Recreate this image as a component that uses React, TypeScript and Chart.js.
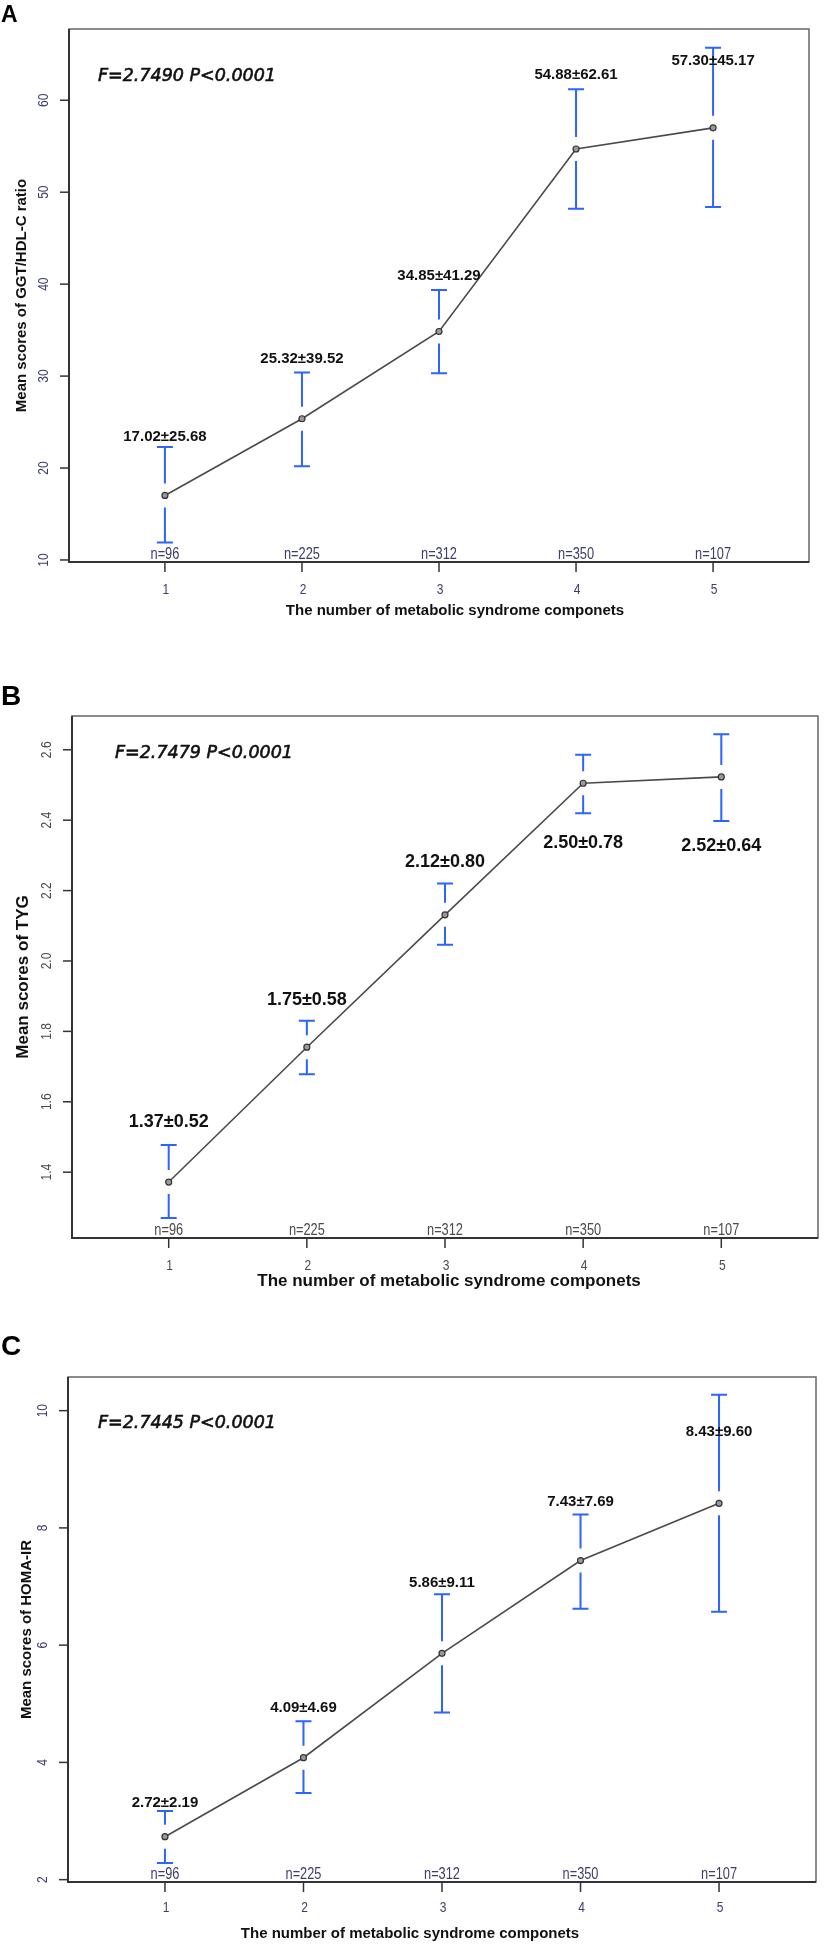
import { useEffect, useRef } from 'react';
import Chart from 'chart.js/auto';

// shared categories
const groups = [1, 2, 3, 4, 5];
const groupTickLabels = ['1', '2', '3', '4', '5'];
const groupSizes = ['n=96', 'n=225', 'n=312', 'n=350', 'n=107'];

// A: GGT/HDL-C ratio
const ggtMeans = [17.02, 25.36, 34.85, 54.7, 57.0];
const ggtUpper = [22.3, 30.4, 39.35, 61.2, 65.7];
const ggtLower = [11.9, 20.2, 30.3, 48.2, 48.4];
const ggtText = ['17.02±25.68', '25.32±39.52', '34.85±41.29', '54.88±62.61', '57.30±45.17'];
const ggtTicks = [10, 20, 30, 40, 50, 60];
const ggtTickLabels = ['10', '20', '30', '40', '50', '60'];

// B: TYG
const tygMeans = [1.372, 1.755, 2.131, 2.505, 2.523];
const tygUpper = [1.477, 1.83, 2.22, 2.586, 2.644];
const tygLower = [1.27, 1.678, 2.046, 2.42, 2.398];
const tygText = ['1.37±0.52', '1.75±0.58', '2.12±0.80', '2.50±0.78', '2.52±0.64'];
const tygTicks = [1.4, 1.6, 1.8, 2.0, 2.2, 2.4, 2.6];
const tygTickLabels = ['1.4', '1.6', '1.8', '2.0', '2.2', '2.4', '2.6'];

// C: HOMA-IR
const homaMeans = [2.733, 4.08, 5.86, 7.443, 8.42];
const homaUpper = [3.17, 4.7, 6.87, 8.23, 10.27];
const homaLower = [2.283, 3.476, 4.85, 6.62, 6.57];
const homaText = ['2.72±2.19', '4.09±4.69', '5.86±9.11', '7.43±7.69', '8.43±9.60'];
const homaTicks = [2, 4, 6, 8, 10];
const homaTickLabels = ['2', '4', '6', '8', '10'];

const xTitle = 'The number of metabolic syndrome componets';

const SANS = "'Liberation Sans', Arial, sans-serif";
const BAR_BLUE = '#2b64ff';

type Panel = {
  letter: string;
  letterY: number;
  letterSize: number;
  height: number;
  pad: { left: number; top: number; right: number; bottom: number };
  yMin: number;
  yMax: number;
  means: number[];
  upper: number[];
  lower: number[];
  text: string[];
  ticks: number[];
  tickLabels: string[];
  yTitle: string;
  fText: string;
  // layout of the decorations
  tickColor: string;
  yTickX: number;
  xTickY: number;
  xTitleY: number;
  xTitleShift: number;
  xTitleSize: number;
  yTitleX: number;
  yTitleSize: number;
  fX: number;
  fDy: number;
  valueSize: number;
  labelAnchor: ('hi' | 'lo')[];
  labelDy: number[];
};

const panels: Panel[] = [
  {
    letter: 'A', letterY: 16, letterSize: 23, height: 640,
    pad: { left: 69, top: 29, right: 17, bottom: 78 },
    yMin: 9.78, yMax: 67.75,
    means: ggtMeans, upper: ggtUpper, lower: ggtLower, text: ggtText,
    ticks: ggtTicks, tickLabels: ggtTickLabels,
    yTitle: 'Mean scores of GGT/HDL-C ratio', fText: 'F=2.7490 P<0.0001',
    tickColor: '#3c3c6e', yTickX: 44, xTickY: 590, xTitleY: 611, xTitleShift: 16, xTitleSize: 15,
    yTitleX: 22, yTitleSize: 15, fX: 98, fDy: 47, valueSize: 15,
    labelAnchor: ['hi', 'hi', 'hi', 'hi', 'hi'], labelDy: [-10, -14, -14, -14, 13],
  },
  {
    letter: 'B', letterY: 57, letterSize: 28, height: 650,
    pad: { left: 72, top: 76, right: 8, bottom: 52 },
    yMin: 1.213, yMax: 2.696,
    means: tygMeans, upper: tygUpper, lower: tygLower, text: tygText,
    ticks: tygTicks, tickLabels: tygTickLabels,
    yTitle: 'Mean scores of TYG', fText: 'F=2.7479 P<0.0001',
    tickColor: '#4a4a4a', yTickX: 47, xTickY: 626, xTitleY: 641, xTitleShift: 4, xTitleSize: 17,
    yTitleX: 23, yTitleSize: 17, fX: 115, fDy: 37, valueSize: 18,
    labelAnchor: ['hi', 'hi', 'hi', 'lo', 'lo'], labelDy: [-23, -21, -22, 30, 25],
  },
  {
    letter: 'C', letterY: 57, letterSize: 28, height: 659,
    pad: { left: 68, top: 87, right: 10, bottom: 67 },
    yMin: 1.96, yMax: 10.574,
    means: homaMeans, upper: homaUpper, lower: homaLower, text: homaText,
    ticks: homaTicks, tickLabels: homaTickLabels,
    yTitle: 'Mean scores of HOMA-IR', fText: 'F=2.7445 P<0.0001',
    tickColor: '#3c3c6e', yTickX: 43, xTickY: 618, xTitleY: 644, xTitleShift: -32, xTitleSize: 15,
    yTitleX: 27, yTitleSize: 15, fX: 98, fDy: 46, valueSize: 15,
    labelAnchor: ['hi', 'hi', 'hi', 'hi', 'hi'], labelDy: [-8, -14, -11, -13, 37],
  },
];

// condensed text (R figure uses a narrow face for ticks and n labels)
const narrowText = (
  ctx: CanvasRenderingContext2D,
  text: string,
  x: number,
  y: number,
  size: number,
  rotate = false,
) => {
  ctx.save();
  ctx.translate(x, y);
  if (rotate) ctx.rotate(-Math.PI / 2);
  ctx.scale(0.8, 1);
  ctx.font = `${size}px ${SANS}`;
  ctx.textAlign = 'center';
  ctx.textBaseline = 'middle';
  ctx.fillText(text, 0, 0);
  ctx.restore();
};

const decor = (p: Panel) => ({
  id: 'decor' + p.letter,
  beforeDatasetsDraw(chart: Chart) {
    const { ctx, scales } = chart;
    const xs = scales.x;
    const ys = scales.y;
    ctx.save();
    // error bars with a gap around the mean
    ctx.strokeStyle = BAR_BLUE;
    ctx.lineWidth = 2;
    groups.forEach((g, i) => {
      const x = xs.getPixelForValue(g);
      const ym = ys.getPixelForValue(p.means[i]);
      const yu = ys.getPixelForValue(p.upper[i]);
      const yl = ys.getPixelForValue(p.lower[i]);
      ctx.beginPath();
      ctx.moveTo(x, yu);
      ctx.lineTo(x, ym - 12);
      ctx.moveTo(x, ym + 12);
      ctx.lineTo(x, yl);
      ctx.moveTo(x - 8, yu);
      ctx.lineTo(x + 8, yu);
      ctx.moveTo(x - 8, yl);
      ctx.lineTo(x + 8, yl);
      ctx.stroke();
    });
    ctx.restore();
  },
  afterDraw(chart: Chart) {
    const { ctx, chartArea: a, scales } = chart;
    const xs = scales.x;
    const ys = scales.y;
    ctx.save();

    // panel letter
    ctx.fillStyle = '#000';
    ctx.font = `bold ${p.letterSize}px ${SANS}`;
    ctx.textAlign = 'left';
    ctx.textBaseline = 'middle';
    ctx.fillText(p.letter, 1, p.letterY);

    // plot box
    ctx.strokeStyle = '#666';
    ctx.lineWidth = 1.5;
    ctx.strokeRect(a.left, a.top, a.right - a.left, a.bottom - a.top);
    ctx.strokeStyle = '#333';
    ctx.lineWidth = 2;
    ctx.beginPath();
    ctx.moveTo(a.left, a.top);
    ctx.lineTo(a.left, a.bottom);
    ctx.lineTo(a.right, a.bottom);
    ctx.stroke();

    // y ticks, labels rotated like R's default axis
    ctx.fillStyle = p.tickColor;
    p.ticks.forEach((v, i) => {
      const y = ys.getPixelForValue(v);
      ctx.strokeStyle = '#333';
      ctx.lineWidth = 1.5;
      ctx.beginPath();
      ctx.moveTo(a.left - 9, y);
      ctx.lineTo(a.left, y);
      ctx.stroke();
      narrowText(ctx, p.tickLabels[i], p.yTickX, y, 15, true);
    });

    // x ticks, tick labels and group sizes
    groups.forEach((g, i) => {
      const x = xs.getPixelForValue(g);
      ctx.strokeStyle = '#333';
      ctx.lineWidth = 1.5;
      ctx.beginPath();
      ctx.moveTo(x, a.bottom);
      ctx.lineTo(x, a.bottom + 10);
      ctx.stroke();
      ctx.fillStyle = p.tickColor;
      narrowText(ctx, groupTickLabels[i], x + 1, p.xTickY, 15);
      narrowText(ctx, groupSizes[i], x, a.bottom - 7, 16);
    });

    // axis titles
    ctx.fillStyle = '#111';
    ctx.font = `bold ${p.xTitleSize}px ${SANS}`;
    ctx.textAlign = 'center';
    ctx.textBaseline = 'middle';
    ctx.fillText(xTitle, (a.left + a.right) / 2 + p.xTitleShift, p.xTitleY);
    ctx.save();
    ctx.translate(p.yTitleX, (a.top + a.bottom) / 2);
    ctx.rotate(-Math.PI / 2);
    ctx.font = `bold ${p.yTitleSize}px ${SANS}`;
    ctx.fillText(p.yTitle, 0, 0);
    ctx.restore();

    // F test note
    ctx.font = `italic 17.5px 'DejaVu Sans', Verdana, sans-serif`;
    ctx.textAlign = 'left';
    ctx.fillStyle = '#111';
    ctx.strokeStyle = '#111';
    ctx.lineWidth = 0.6;
    ctx.fillText(p.fText, p.fX, a.top + p.fDy);
    ctx.strokeText(p.fText, p.fX, a.top + p.fDy);

    // mean ± sd labels
    ctx.font = `bold ${p.valueSize}px ${SANS}`;
    ctx.textAlign = 'center';
    groups.forEach((g, i) => {
      const x = xs.getPixelForValue(g);
      const ref = p.labelAnchor[i] === 'hi' ? p.upper[i] : p.lower[i];
      const y = ys.getPixelForValue(ref) + p.labelDy[i];
      ctx.fillText(p.text[i], x, y);
    });

    ctx.restore();
  },
});

const PanelChart = ({ p }: { p: Panel }) => {
  const chartRef = useRef<HTMLCanvasElement>(null);

  useEffect(() => {
    const ctx = chartRef.current?.getContext('2d');
    if (!ctx) return;
    const chart = new Chart(ctx, {
      type: 'line',
      data: {
        datasets: [
          {
            data: groups.map((g, i) => ({ x: g, y: p.means[i] })),
            borderColor: '#4a4a4a',
            borderWidth: 1.6,
            pointRadius: 3,
            pointBackgroundColor: '#9a9a9a',
            pointBorderColor: '#333',
            pointBorderWidth: 1.2,
            tension: 0,
          },
        ],
      },
      options: {
        responsive: false,
        animation: false,
        events: [],
        layout: { padding: p.pad },
        plugins: {
          legend: { display: false },
          tooltip: { enabled: false },
        },
        scales: {
          x: { type: 'linear', min: 0.3, max: 5.7, display: false },
          y: { type: 'linear', min: p.yMin, max: p.yMax, display: false },
        },
      },
      plugins: [decor(p)],
    });
    return () => chart.destroy();
  }, [p]);

  return <canvas ref={chartRef} width={826} height={p.height} style={{ display: 'block' }} />;
};

const App = () => (
  <div style={{ position: 'absolute', left: 0, top: 0, width: 826, background: '#fff' }}>
    {panels.map((p) => (
      <PanelChart key={p.letter} p={p} />
    ))}
  </div>
);

export default App;
